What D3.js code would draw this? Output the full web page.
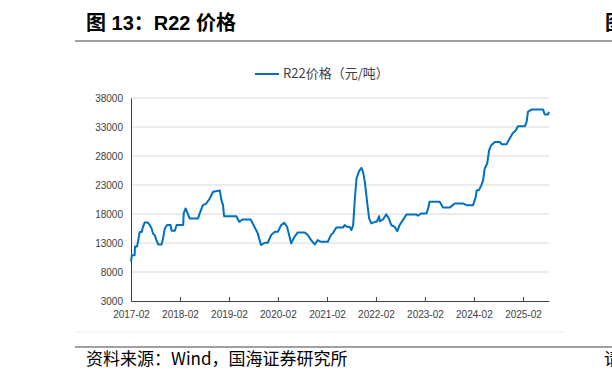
<!DOCTYPE html>
<html>
<head>
<meta charset="utf-8">
<style>
  body { margin: 0; background: #fff; }
  svg { display: block; }
</style>
</head>
<body>
<div id="container"></div>
<script src="https://cdn.jsdelivr.net/npm/d3@7"></script>
<script>
// R22 price, yuan/ton
var dates = [
  "2017-02-01","2017-02-08","2017-02-28","2017-03-03","2017-03-18","2017-03-25","2017-04-07","2017-04-22",
  "2017-04-29","2017-05-14","2017-06-06","2017-06-20","2017-07-03","2017-07-15","2017-07-28","2017-08-10",
  "2017-08-22","2017-09-17","2017-09-28","2017-10-11","2017-10-28","2017-11-23","2017-12-01","2017-12-25",
  "2018-01-07","2018-02-25","2018-03-01","2018-03-15","2018-03-25","2018-04-14","2018-06-16","2018-06-28",
  "2018-07-22","2018-08-16","2018-09-11","2018-10-06","2018-11-25","2018-12-07","2018-12-19","2018-12-27",
  "2019-03-28","2019-04-19","2019-05-13","2019-07-13","2019-08-10","2019-09-04","2019-09-28","2019-10-25",
  "2019-11-17","2019-12-13","2020-01-10","2020-02-01","2020-02-25","2020-03-20","2020-04-09","2020-04-28",
  "2020-05-10","2020-06-04","2020-06-28","2020-08-19","2020-09-11","2020-10-06","2020-11-01","2020-11-25",
  "2020-12-16","2021-02-07","2021-03-02","2021-03-16","2021-04-12","2021-06-01","2021-06-13","2021-06-28",
  "2021-07-19","2021-08-02","2021-08-15","2021-08-28","2021-09-09","2021-09-28","2021-10-16","2021-10-28",
  "2021-11-10","2021-11-27","2021-12-12","2021-12-29","2022-01-25","2022-02-06","2022-02-25","2022-03-01",
  "2022-03-25","2022-04-19","2022-05-08","2022-05-26","2022-06-20","2022-07-10","2022-07-27","2022-08-21",
  "2022-09-16","2022-12-01","2022-12-10","2023-01-06","2023-02-13","2023-02-25","2023-03-07","2023-05-22",
  "2023-06-16","2023-08-04","2023-09-12","2023-11-10","2023-12-08","2024-01-26","2024-02-15","2024-02-22",
  "2024-03-10","2024-03-28","2024-04-10","2024-04-22","2024-05-10","2024-05-25","2024-06-10","2024-07-06",
  "2024-08-13","2024-08-25","2024-10-01","2024-10-25","2024-11-15","2024-12-10","2024-12-25","2025-02-16",
  "2025-02-28","2025-03-10","2025-04-04","2025-07-01","2025-07-13","2025-08-07","2025-08-14"
];
var prices = [
  9800,10900,10900,12400,12400,13200,14900,14900,
  15600,16550,16550,16100,15600,14650,14360,13500,
  12760,12760,13800,15500,16100,16100,15100,15100,
  16100,16100,18100,18960,18400,17240,17240,18100,
  19530,19800,20680,21830,22060,20400,19530,17630,
  17600,16650,17060,17060,15800,14660,12640,13040,
  13040,14370,14930,14930,16090,16480,15800,14070,
  12930,14070,14830,14830,14370,13500,12760,13500,
  13210,13210,14370,14660,15690,15690,16090,15800,
  15800,15230,16090,20680,24120,25390,25950,25260,
  23540,20100,17240,16380,16650,16650,17630,16730,
  17060,17930,17230,16090,15800,15050,16090,16940,
  17930,17930,17700,18100,18100,18960,20100,20100,
  19130,19100,19820,19820,19530,19530,20960,22110,
  22110,22980,23840,25850,26710,29000,29860,30430,
  30430,30040,30040,31020,31880,32450,33140,33140,
  33880,35600,36000,36000,35150,35150,35600
];
var yTicks = [3000, 8000, 13000, 18000, 23000, 28000, 33000, 38000];
var xTickDates = ["2017-02-01","2018-02-01","2019-02-01","2020-02-01","2021-02-01",
                  "2022-02-01","2023-02-01","2024-02-01","2025-02-01"];
var seriesName = "R22价格（元/吨）";
var title = "图 13：R22 价格";
var source = "资料来源：Wind，国海证券研究所";

var parse = d3.timeParse("%Y-%m-%d");
var data = dates.map(function(d, i) { return { date: parse(d), value: prices[i] }; });

var W = 612, H = 383;
var plotLeft = 131, plotRight = 549, plotTop = 98, plotBottom = 301;

var svg = d3.select("#container").append("svg")
  .attr("width", W).attr("height", H);

// title block
svg.append("text")
  .attr("x", 86).attr("y", 30)
  .style("font-family", "'Liberation Sans','Noto Sans CJK SC',sans-serif")
  .style("font-weight", "bold")
  .style("font-size", "20px")
  .attr("fill", "#000")
  .text(title);
// the next column's title peeks in at the right edge
svg.append("text")
  .attr("x", 605).attr("y", 30)
  .style("font-family", "'Noto Sans CJK SC',sans-serif")
  .style("font-weight", "bold")
  .style("font-size", "20px")
  .text("图");
svg.append("line")
  .attr("x1", 75).attr("x2", W).attr("y1", 41).attr("y2", 41)
  .attr("stroke", "#808080").attr("stroke-width", 1.5);

// scales
var xScale = d3.scaleTime()
  .domain([parse("2017-02-01"), parse("2025-08-14")])
  .range([plotLeft, plotRight]);
var yScale = d3.scaleLinear()
  .domain([3000, 38000])
  .range([plotBottom, plotTop]);

// gridlines
svg.append("g").selectAll("line")
  .data(yTicks.slice(1))
  .enter().append("line")
  .attr("x1", plotLeft).attr("x2", plotRight)
  .attr("y1", function(d) { return yScale(d); })
  .attr("y2", function(d) { return yScale(d); })
  .attr("stroke", "#d9d9d9").attr("stroke-width", 1);

// y axis
var yAxis = d3.axisLeft(yScale)
  .tickValues(yTicks)
  .tickFormat(d3.format("d"))
  .tickSize(0).tickPadding(8);
var gy = svg.append("g")
  .attr("transform", "translate(" + plotLeft + ",0)")
  .call(yAxis);
gy.select(".domain").attr("stroke", "#404040");
gy.selectAll("text")
  .style("font-family", "'Liberation Sans',Arial,sans-serif")
  .style("font-size", "10px")
  .attr("fill", "#404040");

// x axis, ticks pointing up into the plot
var xAxis = d3.axisBottom(xScale)
  .tickValues(xTickDates.map(parse))
  .tickFormat(d3.timeFormat("%Y-%m"))
  .tickSizeInner(-4).tickSizeOuter(0).tickPadding(10);
var gx = svg.append("g")
  .attr("transform", "translate(0," + plotBottom + ")")
  .call(xAxis);
gx.select(".domain").attr("stroke", "#404040");
gx.selectAll(".tick line").attr("stroke", "#404040");
gx.selectAll("text")
  .style("font-family", "'Liberation Sans',Arial,sans-serif")
  .style("font-size", "10px")
  .attr("fill", "#404040");

// price line
var line = d3.line()
  .x(function(d) { return xScale(d.date); })
  .y(function(d) { return yScale(d.value); });
svg.append("path")
  .datum(data)
  .attr("fill", "none")
  .attr("stroke", "#0070c0")
  .attr("stroke-width", 2)
  .attr("stroke-linejoin", "round")
  .attr("d", line);

// legend
svg.append("line")
  .attr("x1", 255).attr("x2", 279).attr("y1", 74).attr("y2", 74)
  .attr("stroke", "#0070c0").attr("stroke-width", 2);
svg.append("text")
  .attr("x", 283).attr("y", 78)
  .style("font-family", "'Noto Sans CJK SC',sans-serif")
  .style("font-size", "13px")
  .attr("fill", "#404040")
  .text(seriesName);

// faint chart frame bottom
svg.append("line")
  .attr("x1", 75).attr("x2", 565).attr("y1", 332).attr("y2", 332)
  .attr("stroke", "#efefef").attr("stroke-width", 1);

// source block
svg.append("line")
  .attr("x1", 75).attr("x2", W).attr("y1", 347).attr("y2", 347)
  .attr("stroke", "#808080").attr("stroke-width", 1.5);
svg.append("text")
  .attr("x", 86).attr("y", 365)
  .style("font-family", "'Noto Sans CJK SC',sans-serif")
  .style("font-size", "17px")
  .attr("fill", "#000")
  .text(source);
// cut-off character from the next column
svg.append("text")
  .attr("x", 604).attr("y", 365)
  .style("font-family", "'Noto Sans CJK SC',sans-serif")
  .style("font-size", "17px")
  .text("请");
</script>
</body>
</html>
